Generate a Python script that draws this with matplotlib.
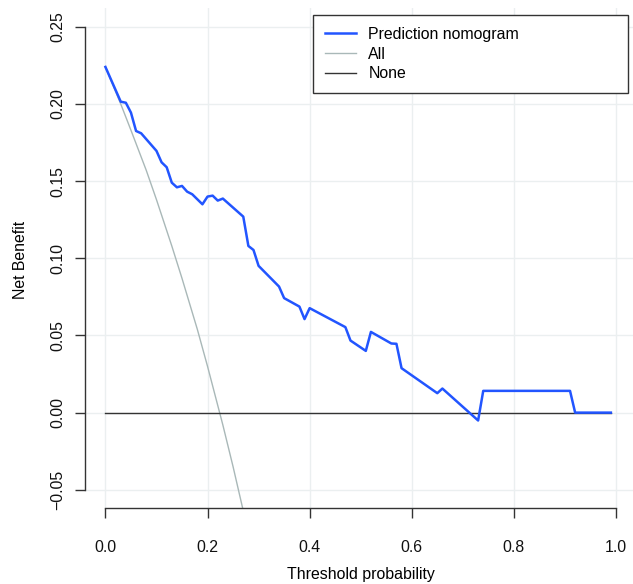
import matplotlib.pyplot as plt

plt.rcParams['font.family'] = ['Liberation Sans', 'DejaVu Sans']

# net benefit of the nomogram
threshold = [0.00, 0.03, 0.04, 0.05, 0.06, 0.07, 0.10, 0.11, 0.12, 0.13,
             0.14, 0.15, 0.16, 0.17, 0.19, 0.20, 0.21, 0.22, 0.23, 0.27,
             0.28, 0.29, 0.30, 0.34, 0.35, 0.38, 0.39, 0.40, 0.47, 0.48,
             0.51, 0.52, 0.56, 0.57, 0.58, 0.65, 0.66, 0.73, 0.74, 0.91,
             0.92, 0.99]
nomogram = [0.224, 0.2015, 0.2008, 0.1944, 0.1825, 0.1810, 0.1696, 0.1622, 0.1590, 0.1490,
            0.1460, 0.1469, 0.1432, 0.1415, 0.1350, 0.1400, 0.1406, 0.1374, 0.1387, 0.1270,
            0.1080, 0.1054, 0.0951, 0.0817, 0.0742, 0.0687, 0.0606, 0.0677, 0.0554, 0.0467,
            0.0400, 0.0523, 0.0448, 0.0446, 0.0288, 0.0126, 0.0156, -0.0051, 0.0141, 0.0141,
            0.0, 0.0]

# treat-all curve
all_x = [0.00, 0.03, 0.05, 0.08, 0.10, 0.13, 0.15, 0.18, 0.20, 0.23, 0.25, 0.28]
all_y = [0.224, 0.200, 0.183, 0.157, 0.138, 0.108, 0.087, 0.054, 0.030, -0.008, -0.035, -0.078]

none_x = [0.0, 0.99]
none_y = [0.0, 0.0]

xticks = [0.0, 0.2, 0.4, 0.6, 0.8, 1.0]
yticks = [-0.05, 0.00, 0.05, 0.10, 0.15, 0.20, 0.25]

W, H = 633, 584
fs = 11.4
fig = plt.figure(figsize=(W / 100, H / 100), dpi=100)
ax = fig.add_axes([85 / W, 1 - 508.3 / H, (636.4 - 85) / W, (508.3 - 8.3) / H])
ax.set_xlim(-0.04, 1.04)
ax.set_ylim(-0.062, 0.262)

for x in xticks:
    ax.axvline(x, color='#ebeff0', lw=1, zorder=0)
for y in yticks:
    ax.axhline(y, color='#ebeff0', lw=1, zorder=0)

ax.plot(threshold, nomogram, color='#2255ff', lw=1.8, label='Prediction nomogram', zorder=3)
ax.plot(all_x, all_y, color='#a9b8b8', lw=1.0, label='All', zorder=2)
ax.plot(none_x, none_y, color='#333333', lw=1.0, label='None', zorder=2)

for side in ['top', 'right']:
    ax.spines[side].set_visible(False)
ax.spines['bottom'].set_bounds(0, 1)
ax.spines['left'].set_bounds(-0.05, 0.25)
for side in ['bottom', 'left']:
    ax.spines[side].set_color('#333333')
    ax.spines[side].set_linewidth(1.0)

ax.set_xticks(xticks)
ax.set_xticklabels(['0.0', '0.2', '0.4', '0.6', '0.8', '1.0'])
ax.set_yticks(yticks)
ax.set_yticklabels(['\u22120.05', '0.00', '0.05', '0.10', '0.15', '0.20', '0.25'],
                   rotation=90, va='center')
ax.tick_params(axis='both', direction='out', length=7, width=1, color='#333333',
               labelsize=fs, labelcolor='#111111')
ax.tick_params(axis='x', pad=16)
ax.tick_params(axis='y', pad=7)

fig.text(361 / W, 1 - 575 / H, 'Threshold probability', ha='center', va='center', fontsize=fs)
fig.text(21 / W, 1 - 260 / H, 'Net Benefit', ha='center', va='center', rotation=90, fontsize=fs)

leg = ax.legend(loc='upper left', bbox_to_anchor=(313 / W, 1 - 90 / H, 315 / W, 75 / H),
                bbox_transform=fig.transFigure, mode='expand', fontsize=fs,
                fancybox=False, edgecolor='#333333', framealpha=1,
                handlelength=1.95, handletextpad=0.8, borderpad=0.75,
                labelspacing=0.3, borderaxespad=0)
leg.get_frame().set_linewidth(1.0)

fig.savefig('out.png', dpi=100)
